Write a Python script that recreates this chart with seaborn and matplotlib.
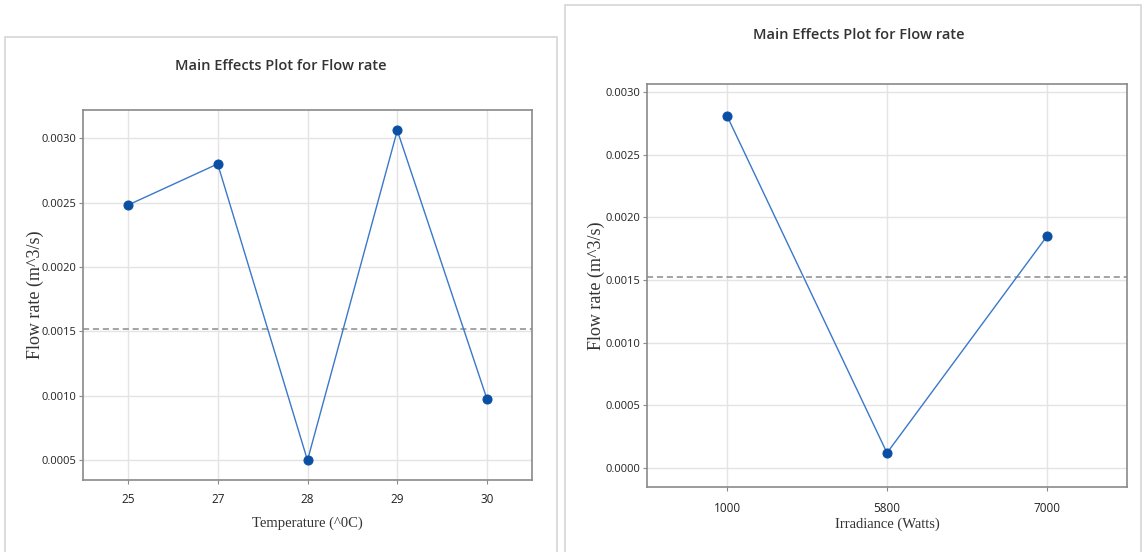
import matplotlib
matplotlib.use("Agg")
import matplotlib.pyplot as plt
from matplotlib.patches import Rectangle
import seaborn as sns
import pandas as pd

# Left panel: temperature levels
temp_levels = ["25", "27", "28", "29", "30"]
temp_flow = [0.00248, 0.00280, 0.000497, 0.00306, 0.00097]

# Right panel: irradiance levels
irr_levels = ["1000", "5800", "7000"]
irr_flow = [0.00281, 0.00012, 0.00185]

overall_mean = 0.00152
title_text = "Main Effects Plot for Flow rate"
ylabel_text = "Flow rate (m^3/s)"

W, H = 1148, 552
LINE_C = "#3a78c9"
MARK_C = "#0a4fa3"

sns.set_style("white")
plt.rcParams["font.family"] = ["Open Sans", "DejaVu Sans"]

fig = plt.figure(figsize=(W / 100, H / 100), dpi=100)


def px_axes(l, t, r, b):
    return fig.add_axes([l / W, 1 - b / H, (r - l) / W, (b - t) / H])


def panel(ax, levels, vals, xlabel, ylim, yticks, xlab_y, ylab_x, xpad):
    df = pd.DataFrame({"level": levels, "flow": vals})
    sns.pointplot(data=df, x="level", y="flow", order=levels, color=LINE_C,
                  markers="o", markersize=6.5, linewidth=1.0, ax=ax, zorder=3)
    for ln in ax.lines:
        ln.set_markerfacecolor(MARK_C)
        ln.set_markeredgecolor(MARK_C)
    ax.axhline(overall_mean, color="#8c8c8c", lw=1.1, ls=(0, (4, 2.5)), zorder=2)
    ax.set_xlim(-0.5, len(levels) - 0.5)
    ax.set_ylim(*ylim)
    ax.set_yticks(yticks)
    ax.set_yticklabels([f"{v:.4f}" for v in yticks])
    ax.grid(True, color="#e4e4e4", lw=1.0)
    ax.set_axisbelow(True)
    for s in ax.spines.values():
        s.set_visible(True)
        s.set_color("#8a8a8a")
        s.set_linewidth(1.2)
    ax.tick_params(axis="both", labelsize=8, colors="#8a8a8a", labelcolor="#222222",
                   length=3, width=0.8, direction="out", left=True, bottom=True)
    ax.tick_params(axis="y", pad=1.5)
    ax.tick_params(axis="x", pad=xpad, labelsize=8.5)
    ax.set_xlabel(xlabel, family="Liberation Serif", fontsize=10.5, color="#333333")
    ax.set_ylabel(ylabel_text, family="Liberation Serif", fontsize=13, color="#333333")
    ax.xaxis.set_label_coords(0.5, xlab_y)
    ax.yaxis.set_label_coords(ylab_x, 0.5)


# panel frames
fig.add_artist(Rectangle((5 / W, -0.01), (557 - 5) / W, 1 - 37 / H + 0.01,
                         transform=fig.transFigure, fill=False, ec="#d6d6d6", lw=1.2))
fig.add_artist(Rectangle((565 / W, -0.01), (1141 - 565) / W, 1 - 5 / H + 0.01,
                         transform=fig.transFigure, fill=False, ec="#d6d6d6", lw=1.2))

ax1 = px_axes(83, 110, 532, 480)
panel(ax1, temp_levels, temp_flow, "Temperature (^0C)",
      (0.000344, 0.003219), [0.0005, 0.0010, 0.0015, 0.0020, 0.0025, 0.0030],
      -0.10, -0.087, 6.5)

ax2 = px_axes(647, 84, 1127, 487)
panel(ax2, irr_levels, irr_flow, "Irradiance (Watts)",
      (-0.000152, 0.003064), [0.0, 0.0005, 0.0010, 0.0015, 0.0020, 0.0025, 0.0030],
      -0.075, -0.088, 7.5)

fig.text(281 / W, 1 - 66 / H, title_text, ha="center", va="center",
         fontsize=10.5, fontweight="semibold", color="#333333")
fig.text(859 / W, 1 - 35 / H, title_text, ha="center", va="center",
         fontsize=10.5, fontweight="semibold", color="#333333")

fig.savefig("out.png", dpi=100)
